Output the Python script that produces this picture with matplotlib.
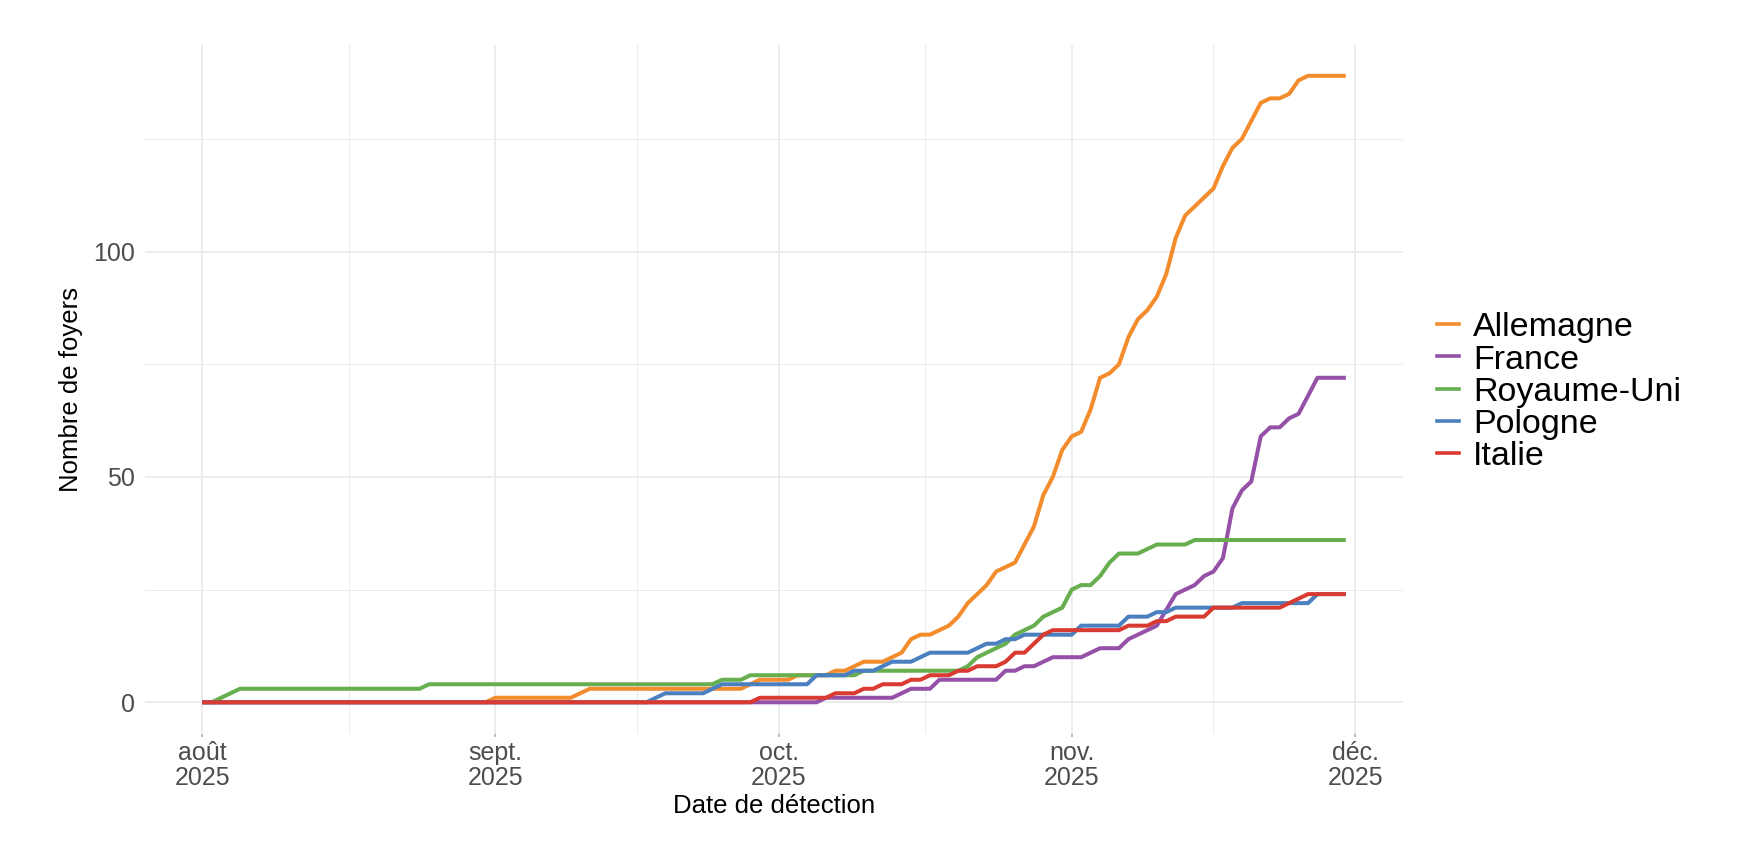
import matplotlib.pyplot as plt
import matplotlib.dates as mdates
from matplotlib.lines import Line2D
import numpy as np

plt.rcParams['font.family'] = ['Liberation Sans', 'DejaVu Sans']

# données cumulées (points de cassure)
de_dates = ["2025-08-01", "2025-08-31", "2025-09-01", "2025-09-09", "2025-09-11",
            "2025-09-27", "2025-09-29", "2025-10-02", "2025-10-03", "2025-10-06",
            "2025-10-07", "2025-10-08", "2025-10-10", "2025-10-12", "2025-10-13",
            "2025-10-14", "2025-10-15", "2025-10-16", "2025-10-17", "2025-10-18",
            "2025-10-19", "2025-10-20", "2025-10-21", "2025-10-22", "2025-10-23",
            "2025-10-24", "2025-10-25", "2025-10-26", "2025-10-27", "2025-10-28",
            "2025-10-29", "2025-10-30", "2025-10-31", "2025-11-01", "2025-11-02",
            "2025-11-03", "2025-11-04", "2025-11-05", "2025-11-06", "2025-11-07",
            "2025-11-08", "2025-11-09", "2025-11-10", "2025-11-11", "2025-11-12",
            "2025-11-13", "2025-11-14", "2025-11-15", "2025-11-16", "2025-11-17",
            "2025-11-18", "2025-11-19", "2025-11-20", "2025-11-21", "2025-11-22",
            "2025-11-23", "2025-11-24", "2025-11-25", "2025-11-26", "2025-11-30"]
de_vals = [0, 0, 1, 1, 3,
           3, 5, 5, 6, 6,
           7, 7, 9, 9, 10,
           11, 14, 15, 15, 16,
           17, 19, 22, 24, 26,
           29, 30, 31, 35, 39,
           46, 50, 56, 59, 60,
           65, 72, 73, 75, 81,
           85, 87, 90, 95, 103,
           108, 110, 112, 114, 119,
           123, 125, 129, 133, 134,
           134, 135, 138, 139, 139]

fr_dates = ["2025-08-01", "2025-10-05", "2025-10-06", "2025-10-13", "2025-10-15",
            "2025-10-17", "2025-10-18", "2025-10-24", "2025-10-25", "2025-10-26",
            "2025-10-27", "2025-10-28", "2025-10-30", "2025-11-02", "2025-11-04",
            "2025-11-06", "2025-11-07", "2025-11-08", "2025-11-09", "2025-11-10",
            "2025-11-12", "2025-11-13", "2025-11-14", "2025-11-15", "2025-11-16",
            "2025-11-17", "2025-11-18", "2025-11-19", "2025-11-20", "2025-11-21",
            "2025-11-22", "2025-11-23", "2025-11-24", "2025-11-25", "2025-11-27",
            "2025-11-30"]
fr_vals = [0, 0, 1, 1, 3,
           3, 5, 5, 7, 7,
           8, 8, 10, 10, 12,
           12, 14, 15, 16, 17,
           24, 25, 26, 28, 29,
           32, 43, 47, 49, 59,
           61, 61, 63, 64, 72,
           72]

uk_dates = ["2025-08-01", "2025-08-02", "2025-08-05", "2025-08-24", "2025-08-25",
            "2025-09-24", "2025-09-25", "2025-09-27", "2025-09-28", "2025-10-09",
            "2025-10-10", "2025-10-20", "2025-10-21", "2025-10-22", "2025-10-23",
            "2025-10-24", "2025-10-25", "2025-10-26", "2025-10-27", "2025-10-28",
            "2025-10-29", "2025-10-30", "2025-10-31", "2025-11-01", "2025-11-02",
            "2025-11-03", "2025-11-04", "2025-11-05", "2025-11-06", "2025-11-08",
            "2025-11-09", "2025-11-10", "2025-11-13", "2025-11-14", "2025-11-30"]
uk_vals = [0, 0, 3, 3, 4,
           4, 5, 5, 6, 6,
           7, 7, 8, 10, 11,
           12, 13, 15, 16, 17,
           19, 20, 21, 25, 26,
           26, 28, 31, 33, 33,
           34, 35, 35, 36, 36]

pl_dates = ["2025-08-01", "2025-09-17", "2025-09-19", "2025-09-23", "2025-09-25",
            "2025-10-04", "2025-10-05", "2025-10-08", "2025-10-09", "2025-10-11",
            "2025-10-13", "2025-10-15", "2025-10-17", "2025-10-21", "2025-10-23",
            "2025-10-24", "2025-10-25", "2025-10-26", "2025-10-27", "2025-11-01",
            "2025-11-02", "2025-11-06", "2025-11-07", "2025-11-09", "2025-11-10",
            "2025-11-11", "2025-11-12", "2025-11-18", "2025-11-19", "2025-11-26",
            "2025-11-27", "2025-11-30"]
pl_vals = [0, 0, 2, 2, 4,
           4, 6, 6, 7, 7,
           9, 9, 11, 11, 13,
           13, 14, 14, 15, 15,
           17, 17, 19, 19, 20,
           20, 21, 21, 22, 22,
           24, 24]

it_dates = ["2025-08-01", "2025-09-28", "2025-09-29", "2025-10-06", "2025-10-07",
            "2025-10-09", "2025-10-10", "2025-10-11", "2025-10-12", "2025-10-14",
            "2025-10-15", "2025-10-16", "2025-10-17", "2025-10-19", "2025-10-20",
            "2025-10-21", "2025-10-22", "2025-10-24", "2025-10-25", "2025-10-26",
            "2025-10-27", "2025-10-28", "2025-10-29", "2025-10-30", "2025-11-06",
            "2025-11-07", "2025-11-09", "2025-11-10", "2025-11-11", "2025-11-12",
            "2025-11-15", "2025-11-16", "2025-11-23", "2025-11-24", "2025-11-25",
            "2025-11-26", "2025-11-30"]
it_vals = [0, 0, 1, 1, 2,
           2, 3, 3, 4, 4,
           5, 5, 6, 6, 7,
           7, 8, 8, 9, 11,
           11, 13, 15, 16, 16,
           17, 17, 18, 18, 19,
           19, 21, 21, 22, 23,
           24, 24]

countries = ["Allemagne", "France", "Royaume-Uni", "Pologne", "Italie"]
colors = ["#F28C2C", "#9551A7", "#66AE4E", "#4A80BF", "#D93A31"]
series = [(de_dates, de_vals), (fr_dates, fr_vals), (uk_dates, uk_vals),
          (pl_dates, pl_vals), (it_dates, it_vals)]

month_ticks = ["2025-08-01", "2025-09-01", "2025-10-01", "2025-11-01", "2025-12-01"]
month_labels = ["août\n2025", "sept.\n2025", "oct.\n2025", "nov.\n2025", "déc.\n2025"]

W, H = 1746, 850
fig = plt.figure(figsize=(W / 100, H / 100), dpi=100)
ax = fig.add_axes([145 / W, 1 - 733.6 / H, (1403 - 145) / W, (733.6 - 44.5) / H])

for (d, v), c in zip(series, colors):
    ax.plot(np.array(d, dtype="datetime64[D]"), v, color=c, lw=2.9,
            solid_joinstyle="round", solid_capstyle="butt")

# limites avec expansion de 5 %
all_d = np.concatenate([np.array(d, dtype="datetime64[D]") for d, _ in series])
x0, x1 = mdates.date2num(all_d.min()), mdates.date2num(all_d.max())
pad = 0.05 * (x1 - x0)
ax.set_xlim(x0 - pad, x1 + pad)
ymax = max(max(v) for _, v in series)
ax.set_ylim(-0.05 * ymax, ymax * 1.05)

tick_nums = mdates.date2num(np.array(month_ticks, dtype="datetime64[D]"))
ax.set_xticks(tick_nums)
ax.set_xticklabels(month_labels, linespacing=1.05)
ax.set_xticks((tick_nums[:-1] + tick_nums[1:]) / 2, minor=True)
ax.set_yticks([0, 50, 100])
ax.set_yticks([25, 75, 125], minor=True)

for s in ax.spines.values():
    s.set_visible(False)
ax.grid(which="major", color="#EBEBEB", lw=1.3)
ax.grid(which="minor", color="#EBEBEB", lw=0.7)
ax.set_axisbelow(True)
ax.tick_params(axis="x", which="major", length=2.5, width=1.2, color="#B0B0B0",
               labelsize=18, labelcolor="#4D4D4D", pad=3)
ax.tick_params(axis="y", which="major", length=0, labelsize=18,
               labelcolor="#4D4D4D", pad=7)
ax.tick_params(which="minor", length=0)

ax.set_xlabel("Date de détection", fontsize=18.5, color="black")
ax.xaxis.set_label_coords(0.5, -0.088)
ax.set_ylabel("Nombre de foyers", fontsize=18.5, color="black")
ax.yaxis.set_label_coords(-0.049, 0.5)

# légende
for i, (name, c) in enumerate(zip(countries, colors)):
    ky = 324 + i * 32.3
    fig.add_artist(Line2D([1436.7 / W, 1459.3 / W], [1 - ky / H] * 2, color=c, lw=2.6))
    fig.text(1473 / W, 1 - (ky + 12.3) / H, name, fontsize=24.5, color="black",
             va="baseline", ha="left")

fig.savefig("out.png", dpi=100, facecolor="white")
